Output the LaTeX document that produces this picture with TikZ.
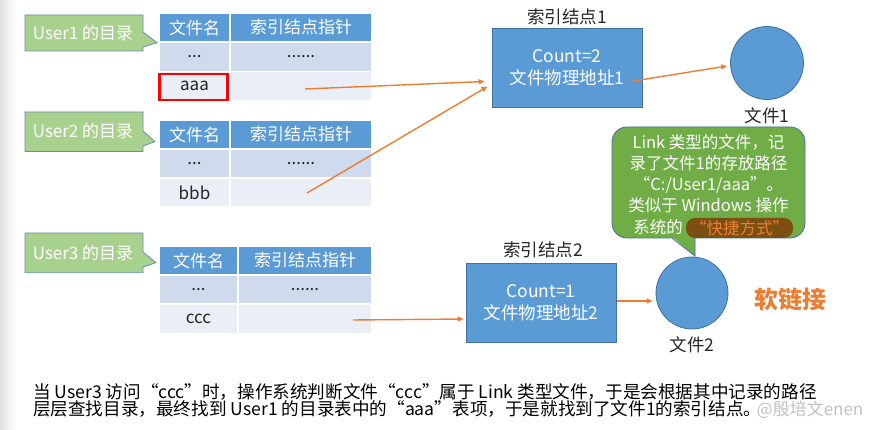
\documentclass[tikz,border=0pt]{standalone}
\usepackage{fontspec}
\setmainfont{Noto Sans CJK SC}
\usetikzlibrary{arrows.meta,calc}
\definecolor{hdr}{HTML}{5B9BD5}
\definecolor{rowa}{HTML}{CFDAEC}
\definecolor{rowb}{HTML}{E9EEF7}
\definecolor{bord}{HTML}{41719C}
\definecolor{ugreen}{HTML}{A9D18E}
\definecolor{bgreen}{HTML}{70AD47}
\definecolor{orng}{HTML}{ED7D31}
\definecolor{brn}{HTML}{7B4F12}
\definecolor{txt}{HTML}{262626}
\tikzset{
  cell/.style={inner sep=0pt, text=txt, font=\fontsize{17}{20}\selectfont},
  hcell/.style={cell, fill=hdr, text=white},
  ucall/.style={fill=ugreen, draw=bord!80, line width=0.8pt},
  utext/.style={text=white, font=\fontsize{17}{20}\selectfont, inner sep=0pt},
  idx/.style={fill=hdr, draw=bord, line width=0.8pt, inner sep=0pt, text=white, align=center, font=\fontsize{17.5}{22}\selectfont},
  lbl/.style={text=txt, font=\fontsize{17.5}{20}\selectfont, inner sep=0pt},
  fcirc/.style={circle, fill=hdr, draw=bord, line width=0.8pt, inner sep=0pt, minimum size=73pt},
  arr/.style={draw=orng, line width=1.4pt, -{Triangle[length=6pt,width=5pt]}},
  btext/.style={text=white, font=\fontsize{16.5}{21}\selectfont, inner sep=0pt, align=center}
}
\begin{document}
\begin{tikzpicture}[x=1pt,y=-1pt]
\useasboundingbox (0,0) rectangle (876,430);
\fill[white] (0,0) rectangle (876,430);
\shade[left color=black!12, right color=white] (0,0) rectangle (16,430);

% ---------- User callouts ----------
\filldraw[ucall] (25,15) -- (143,15) -- (143,32) -- (157,42.7) -- (143,47) -- (143,51) -- (25,51) -- cycle;
\node[utext] (u1) at (83,33) {User1 的目录};
\filldraw[ucall] (25,112) -- (143,112) -- (143,131) -- (155,141.7) -- (143,146) -- (143,151.5) -- (25,151.5) -- cycle;
\node[utext] (u2) at (83,131.5) {User2 的目录};
\filldraw[ucall] (25,233) -- (143,233) -- (143,252) -- (156,262.7) -- (143,267) -- (143,272.7) -- (25,272.7) -- cycle;
\node[utext] (u3) at (83,253) {User3 的目录};

% ---------- Table 1 ----------
\node[hcell, minimum width=69pt, minimum height=27pt] (t1a) at (194.5,27.5) {文件名};
\node[hcell, minimum width=140pt, minimum height=27pt] (t1b) at (301,27.5) {索引结点指针};
\node[cell, fill=rowa, minimum width=69pt, minimum height=28pt] (t1c) at (194.5,57) {...};
\node[cell, fill=rowa, minimum width=140pt, minimum height=28pt] (t1d) at (301,57) {......};
\node[cell, fill=rowb, minimum width=69pt, minimum height=28pt] (t1e) at (194.5,86) {aaa};
\node[cell, fill=rowb, minimum width=140pt, minimum height=28pt] (t1f) at (301,86) {};
\node[draw=red, line width=2.5pt, minimum width=68pt, minimum height=26pt, inner sep=0pt] (aaabox) at (193.5,87) {};

% ---------- Table 2 ----------
\node[hcell, minimum width=69pt, minimum height=27pt] (t2a) at (194.5,134.5) {文件名};
\node[hcell, minimum width=140pt, minimum height=27pt] (t2b) at (301,134.5) {索引结点指针};
\node[cell, fill=rowa, minimum width=69pt, minimum height=27pt] (t2c) at (194.5,163.5) {...};
\node[cell, fill=rowa, minimum width=140pt, minimum height=27pt] (t2d) at (301,163.5) {......};
\node[cell, fill=rowb, minimum width=69pt, minimum height=27pt] (t2e) at (194.5,192.5) {bbb};
\node[cell, fill=rowb, minimum width=140pt, minimum height=27pt] (t2f) at (301,192.5) {};

% ---------- Table 3 ----------
\node[hcell, minimum width=77pt, minimum height=27pt] (t3a) at (198.5,260.5) {文件名};
\node[hcell, minimum width=132pt, minimum height=27pt] (t3b) at (305,260.5) {索引结点指针};
\node[cell, fill=rowa, minimum width=77pt, minimum height=27pt] (t3c) at (198.5,289.5) {...};
\node[cell, fill=rowa, minimum width=132pt, minimum height=27pt] (t3d) at (305,289.5) {......};
\node[cell, fill=rowb, minimum width=77pt, minimum height=28pt] (t3e) at (198.5,319) {ccc};
\node[cell, fill=rowb, minimum width=132pt, minimum height=28pt] (t3f) at (305,319) {};

% ---------- Index nodes ----------
\node[lbl] (n1l) at (567,17) {索引结点1};
\node[idx, minimum width=150pt, minimum height=79pt] (n1) at (567,67.5) {Count=2\\文件物理地址1};
\node[fcirc] (f1) at (767,63) {};
\node[lbl] (f1l) at (767,116) {文件1};

\node[lbl] (n2l) at (543,250) {索引结点2};
\node[idx, minimum width=150pt, minimum height=79pt] (n2) at (541,302.5) {Count=1\\文件物理地址2};
\node[fcirc, minimum size=72pt] (f2) at (692,293) {};
\node[lbl] (f2l) at (692,345) {文件2};

% ---------- Bubble ----------
\node[fill=bgreen, draw=bord, line width=0.8pt, rounded corners=15pt, minimum width=193pt, minimum height=111pt, inner sep=0pt] (bub) at (708.5,182.5) {};
\fill[bgreen] (671,236) -- (695,256) -- (695,236) -- cycle;
\draw[bord, line width=0.8pt] (672,238.2) -- (695,256) -- (695,238.2);
\node[btext] (bubt) at (708.5,173.5) {Link 类型的文件，记\\录了文件1的存放路径\\“C:/User1/aaa”。\\类似于 Windows 操作};
\node[btext] (bubs) at (658,227) {系统的};
\node[fill=brn, rounded corners=9pt, minimum width=107pt, minimum height=20pt, inner sep=0pt, text=orng, font=\fontsize{16.5}{18}\selectfont] (hl) at (739.5,228) {“快捷方式”};

% ---------- Arrows ----------
\coordinate (a1s) at (305,89);
\coordinate (a2s) at (307,193);
\coordinate (a4s) at (353,320);
\draw[arr] (a1s) -- ($(n1.west)+(-7,14)$);
\draw[arr] (a2s) -- ($(n1.west)+(-4,19)$);
\draw[arr] ($(n1.east)+(-12,14)$) -- ($(f1.west)+(-3,3)$);
\draw[arr] (a4s) -- ($(n2.west)+(-2,16.5)$);
\draw[arr] ($(n2.east)+(1,-1.5)$) -- ($(f2.west)+(-3,8)$);

% ---------- Labels ----------
\node[text=orng, font=\fontsize{24}{26}\selectfont\bfseries, inner sep=0pt] (soft) at (790,299) {软链接};
\node[anchor=north west, align=left, text=black, font=\fontsize{17.6}{17}\selectfont, inner sep=0pt] (desc) at (33,383) {当 User3 访问“ccc”时，操作系统判断文件“ccc”属于 Link 类型文件，于是会根据其中记录的路径\\层层查找目录，最终找到 User1 的目录表中的“aaa”表项，于是就找到了文件1的索引结点。};
\node[text=gray!60, opacity=0.8, font=\fontsize{17}{18}\selectfont, inner sep=0pt] (wm) at (810,410) {@殷培文enen};
\end{tikzpicture}
\end{document}
